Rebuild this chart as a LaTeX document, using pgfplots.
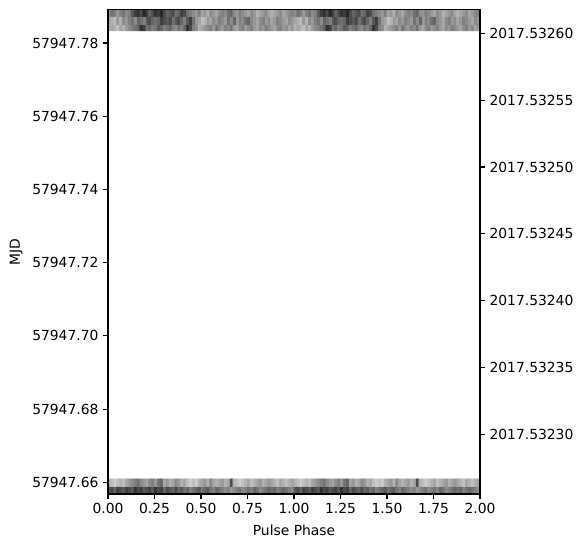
\documentclass[border=0pt]{standalone}
\usepackage{pgfplots}
\pgfplotsset{compat=1.18}
\usepackage{pgfplotstable}
\usepackage{fontspec}
\setmainfont{DejaVu Sans}

% Phaseogram intensities (0 = no signal/white, 1 = strongest/black), 64 phase bins per cycle.
% Top block: three sub-integrations (y = MJD - 57947).
\pgfplotstableread[row sep=\\]{
x y c \\
0.0078 0.78426 0.30 \\ 0.0234 0.78426 0.35 \\ 0.0391 0.78426 0.30 \\ 0.0547 0.78426 0.25 \\ 0.0703 0.78426 0.35 \\ 0.0859 0.78426 0.30 \\ 0.1016 0.78426 0.40 \\ 0.1172 0.78426 0.45 \\
0.1328 0.78426 0.50 \\ 0.1484 0.78426 0.55 \\ 0.1641 0.78426 0.60 \\ 0.1797 0.78426 0.80 \\ 0.1953 0.78426 0.75 \\ 0.2109 0.78426 0.55 \\ 0.2266 0.78426 0.60 \\ 0.2422 0.78426 0.50 \\
0.2578 0.78426 0.55 \\ 0.2734 0.78426 0.65 \\ 0.2891 0.78426 0.60 \\ 0.3047 0.78426 0.50 \\ 0.3203 0.78426 0.55 \\ 0.3359 0.78426 0.60 \\ 0.3516 0.78426 0.50 \\ 0.3672 0.78426 0.45 \\
0.3828 0.78426 0.55 \\ 0.3984 0.78426 0.50 \\ 0.4141 0.78426 0.60 \\ 0.4297 0.78426 0.80 \\ 0.4453 0.78426 0.70 \\ 0.4609 0.78426 0.50 \\ 0.4766 0.78426 0.45 \\ 0.4922 0.78426 0.30 \\
0.5078 0.78426 0.35 \\ 0.5234 0.78426 0.40 \\ 0.5391 0.78426 0.45 \\ 0.5547 0.78426 0.50 \\ 0.5703 0.78426 0.40 \\ 0.5859 0.78426 0.55 \\ 0.6016 0.78426 0.45 \\ 0.6172 0.78426 0.40 \\
0.6328 0.78426 0.50 \\ 0.6484 0.78426 0.45 \\ 0.6641 0.78426 0.55 \\ 0.6797 0.78426 0.40 \\ 0.6953 0.78426 0.35 \\ 0.7109 0.78426 0.45 \\ 0.7266 0.78426 0.50 \\ 0.7422 0.78426 0.40 \\
0.7578 0.78426 0.45 \\ 0.7734 0.78426 0.50 \\ 0.7891 0.78426 0.40 \\ 0.8047 0.78426 0.35 \\ 0.8203 0.78426 0.45 \\ 0.8359 0.78426 0.40 \\ 0.8516 0.78426 0.50 \\ 0.8672 0.78426 0.45 \\
0.8828 0.78426 0.40 \\ 0.8984 0.78426 0.35 \\ 0.9141 0.78426 0.45 \\ 0.9297 0.78426 0.50 \\ 0.9453 0.78426 0.40 \\ 0.9609 0.78426 0.45 \\ 0.9766 0.78426 0.35 \\ 0.9922 0.78426 0.40 \\
0.0078 0.78621 0.35 \\ 0.0234 0.78621 0.30 \\ 0.0391 0.78621 0.25 \\ 0.0547 0.78621 0.40 \\ 0.0703 0.78621 0.30 \\ 0.0859 0.78621 0.45 \\ 0.1016 0.78621 0.40 \\ 0.1172 0.78621 0.50 \\
0.1328 0.78621 0.55 \\ 0.1484 0.78621 0.45 \\ 0.1641 0.78621 0.60 \\ 0.1797 0.78621 0.55 \\ 0.1953 0.78621 0.50 \\ 0.2109 0.78621 0.65 \\ 0.2266 0.78621 0.70 \\ 0.2422 0.78621 0.60 \\
0.2578 0.78621 0.55 \\ 0.2734 0.78621 0.60 \\ 0.2891 0.78621 0.75 \\ 0.3047 0.78621 0.70 \\ 0.3203 0.78621 0.65 \\ 0.3359 0.78621 0.70 \\ 0.3516 0.78621 0.55 \\ 0.3672 0.78621 0.65 \\
0.3828 0.78621 0.70 \\ 0.3984 0.78621 0.60 \\ 0.4141 0.78621 0.50 \\ 0.4297 0.78621 0.65 \\ 0.4453 0.78621 0.75 \\ 0.4609 0.78621 0.55 \\ 0.4766 0.78621 0.40 \\ 0.4922 0.78621 0.35 \\
0.5078 0.78621 0.25 \\ 0.5234 0.78621 0.30 \\ 0.5391 0.78621 0.40 \\ 0.5547 0.78621 0.35 \\ 0.5703 0.78621 0.45 \\ 0.5859 0.78621 0.40 \\ 0.6016 0.78621 0.50 \\ 0.6172 0.78621 0.45 \\
0.6328 0.78621 0.40 \\ 0.6484 0.78621 0.55 \\ 0.6641 0.78621 0.45 \\ 0.6797 0.78621 0.60 \\ 0.6953 0.78621 0.40 \\ 0.7109 0.78621 0.50 \\ 0.7266 0.78621 0.45 \\ 0.7422 0.78621 0.55 \\
0.7578 0.78621 0.60 \\ 0.7734 0.78621 0.45 \\ 0.7891 0.78621 0.40 \\ 0.8047 0.78621 0.35 \\ 0.8203 0.78621 0.45 \\ 0.8359 0.78621 0.50 \\ 0.8516 0.78621 0.40 \\ 0.8672 0.78621 0.45 \\
0.8828 0.78621 0.35 \\ 0.8984 0.78621 0.40 \\ 0.9141 0.78621 0.50 \\ 0.9297 0.78621 0.45 \\ 0.9453 0.78621 0.40 \\ 0.9609 0.78621 0.35 \\ 0.9766 0.78621 0.45 \\ 0.9922 0.78621 0.40 \\
0.0078 0.78817 0.45 \\ 0.0234 0.78817 0.55 \\ 0.0391 0.78817 0.50 \\ 0.0547 0.78817 0.40 \\ 0.0703 0.78817 0.50 \\ 0.0859 0.78817 0.55 \\ 0.1016 0.78817 0.45 \\ 0.1172 0.78817 0.50 \\
0.1328 0.78817 0.65 \\ 0.1484 0.78817 0.75 \\ 0.1641 0.78817 0.80 \\ 0.1797 0.78817 0.70 \\ 0.1953 0.78817 0.85 \\ 0.2109 0.78817 0.75 \\ 0.2266 0.78817 0.60 \\ 0.2422 0.78817 0.70 \\
0.2578 0.78817 0.80 \\ 0.2734 0.78817 0.75 \\ 0.2891 0.78817 0.85 \\ 0.3047 0.78817 0.70 \\ 0.3203 0.78817 0.60 \\ 0.3359 0.78817 0.65 \\ 0.3516 0.78817 0.70 \\ 0.3672 0.78817 0.55 \\
0.3828 0.78817 0.60 \\ 0.3984 0.78817 0.75 \\ 0.4141 0.78817 0.70 \\ 0.4297 0.78817 0.55 \\ 0.4453 0.78817 0.50 \\ 0.4609 0.78817 0.45 \\ 0.4766 0.78817 0.40 \\ 0.4922 0.78817 0.50 \\
0.5078 0.78817 0.35 \\ 0.5234 0.78817 0.40 \\ 0.5391 0.78817 0.30 \\ 0.5547 0.78817 0.45 \\ 0.5703 0.78817 0.40 \\ 0.5859 0.78817 0.35 \\ 0.6016 0.78817 0.45 \\ 0.6172 0.78817 0.50 \\
0.6328 0.78817 0.45 \\ 0.6484 0.78817 0.55 \\ 0.6641 0.78817 0.60 \\ 0.6797 0.78817 0.45 \\ 0.6953 0.78817 0.40 \\ 0.7109 0.78817 0.50 \\ 0.7266 0.78817 0.45 \\ 0.7422 0.78817 0.40 \\
0.7578 0.78817 0.35 \\ 0.7734 0.78817 0.45 \\ 0.7891 0.78817 0.40 \\ 0.8047 0.78817 0.30 \\ 0.8203 0.78817 0.35 \\ 0.8359 0.78817 0.40 \\ 0.8516 0.78817 0.45 \\ 0.8672 0.78817 0.35 \\
0.8828 0.78817 0.30 \\ 0.8984 0.78817 0.35 \\ 0.9141 0.78817 0.40 \\ 0.9297 0.78817 0.45 \\ 0.9453 0.78817 0.35 \\ 0.9609 0.78817 0.40 \\ 0.9766 0.78817 0.45 \\ 0.9922 0.78817 0.50 \\
}\bandtop

% Bottom block: two sub-integrations.
\pgfplotstableread[row sep=\\]{
x y c \\
0.0078 0.65783 0.65 \\ 0.0234 0.65783 0.70 \\ 0.0391 0.65783 0.60 \\ 0.0547 0.65783 0.75 \\ 0.0703 0.65783 0.70 \\ 0.0859 0.65783 0.65 \\ 0.1016 0.65783 0.75 \\ 0.1172 0.65783 0.70 \\
0.1328 0.65783 0.65 \\ 0.1484 0.65783 0.80 \\ 0.1641 0.65783 0.70 \\ 0.1797 0.65783 0.75 \\ 0.1953 0.65783 0.65 \\ 0.2109 0.65783 0.70 \\ 0.2266 0.65783 0.75 \\ 0.2422 0.65783 0.65 \\
0.2578 0.65783 0.80 \\ 0.2734 0.65783 0.70 \\ 0.2891 0.65783 0.75 \\ 0.3047 0.65783 0.60 \\ 0.3203 0.65783 0.70 \\ 0.3359 0.65783 0.65 \\ 0.3516 0.65783 0.60 \\ 0.3672 0.65783 0.70 \\
0.3828 0.65783 0.60 \\ 0.3984 0.65783 0.65 \\ 0.4141 0.65783 0.55 \\ 0.4297 0.65783 0.60 \\ 0.4453 0.65783 0.50 \\ 0.4609 0.65783 0.55 \\ 0.4766 0.65783 0.60 \\ 0.4922 0.65783 0.65 \\
0.5078 0.65783 0.55 \\ 0.5234 0.65783 0.60 \\ 0.5391 0.65783 0.65 \\ 0.5547 0.65783 0.55 \\ 0.5703 0.65783 0.50 \\ 0.5859 0.65783 0.60 \\ 0.6016 0.65783 0.55 \\ 0.6172 0.65783 0.50 \\
0.6328 0.65783 0.45 \\ 0.6484 0.65783 0.50 \\ 0.6641 0.65783 0.40 \\ 0.6797 0.65783 0.45 \\ 0.6953 0.65783 0.50 \\ 0.7109 0.65783 0.55 \\ 0.7266 0.65783 0.45 \\ 0.7422 0.65783 0.50 \\
0.7578 0.65783 0.55 \\ 0.7734 0.65783 0.50 \\ 0.7891 0.65783 0.60 \\ 0.8047 0.65783 0.55 \\ 0.8203 0.65783 0.45 \\ 0.8359 0.65783 0.50 \\ 0.8516 0.65783 0.55 \\ 0.8672 0.65783 0.60 \\
0.8828 0.65783 0.55 \\ 0.8984 0.65783 0.60 \\ 0.9141 0.65783 0.50 \\ 0.9297 0.65783 0.55 \\ 0.9453 0.65783 0.60 \\ 0.9609 0.65783 0.55 \\ 0.9766 0.65783 0.50 \\ 0.9922 0.65783 0.45 \\
0.0078 0.65988 0.30 \\ 0.0234 0.65988 0.25 \\ 0.0391 0.65988 0.20 \\ 0.0547 0.65988 0.25 \\ 0.0703 0.65988 0.30 \\ 0.0859 0.65988 0.25 \\ 0.1016 0.65988 0.35 \\ 0.1172 0.65988 0.40 \\
0.1328 0.65988 0.45 \\ 0.1484 0.65988 0.50 \\ 0.1641 0.65988 0.55 \\ 0.1797 0.65988 0.45 \\ 0.1953 0.65988 0.40 \\ 0.2109 0.65988 0.35 \\ 0.2266 0.65988 0.45 \\ 0.2422 0.65988 0.50 \\
0.2578 0.65988 0.40 \\ 0.2734 0.65988 0.55 \\ 0.2891 0.65988 0.60 \\ 0.3047 0.65988 0.35 \\ 0.3203 0.65988 0.40 \\ 0.3359 0.65988 0.30 \\ 0.3516 0.65988 0.35 \\ 0.3672 0.65988 0.45 \\
0.3828 0.65988 0.40 \\ 0.3984 0.65988 0.30 \\ 0.4141 0.65988 0.35 \\ 0.4297 0.65988 0.25 \\ 0.4453 0.65988 0.20 \\ 0.4609 0.65988 0.25 \\ 0.4766 0.65988 0.20 \\ 0.4922 0.65988 0.30 \\
0.5078 0.65988 0.35 \\ 0.5234 0.65988 0.40 \\ 0.5391 0.65988 0.30 \\ 0.5547 0.65988 0.45 \\ 0.5703 0.65988 0.35 \\ 0.5859 0.65988 0.30 \\ 0.6016 0.65988 0.35 \\ 0.6172 0.65988 0.40 \\
0.6328 0.65988 0.30 \\ 0.6484 0.65988 0.35 \\ 0.6641 0.65988 0.70 \\ 0.6797 0.65988 0.30 \\ 0.6953 0.65988 0.25 \\ 0.7109 0.65988 0.20 \\ 0.7266 0.65988 0.25 \\ 0.7422 0.65988 0.30 \\
0.7578 0.65988 0.35 \\ 0.7734 0.65988 0.25 \\ 0.7891 0.65988 0.30 \\ 0.8047 0.65988 0.35 \\ 0.8203 0.65988 0.40 \\ 0.8359 0.65988 0.30 \\ 0.8516 0.65988 0.35 \\ 0.8672 0.65988 0.40 \\
0.8828 0.65988 0.35 \\ 0.8984 0.65988 0.30 \\ 0.9141 0.65988 0.25 \\ 0.9297 0.65988 0.35 \\ 0.9453 0.65988 0.30 \\ 0.9609 0.65988 0.25 \\ 0.9766 0.65988 0.30 \\ 0.9922 0.65988 0.35 \\
}\bandbottom

\pgfplotsset{
  phaseaxis/.style={
    scale only axis,
    width=279pt, height=363.4pt,
    xmin=0, xmax=2,
    font=\fontsize{10.4}{12.5}\selectfont,
    axis line style={line width=0.8pt, black},
    tick style={line width=0.8pt, black},
    major tick length=3.65pt,
    tick align=outside,
    /pgf/number format/assume math mode=true,
  },
}

\begin{document}
\begin{tikzpicture}
\begin{axis}[
  phaseaxis,
  ymin=0.6568, ymax=0.78915,
  tick pos=left,
  xtick={0,0.25,0.5,0.75,1,1.25,1.5,1.75,2},
  xticklabels={0.00,0.25,0.50,0.75,1.00,1.25,1.50,1.75,2.00},
  ytick={0.66,0.68,0.70,0.72,0.74,0.76,0.78},
  yticklabels={57947.66,57947.68,57947.70,57947.72,57947.74,57947.76,57947.78},
  xlabel={Pulse Phase},
  ylabel={MJD},
  xlabel style={at={(axis description cs:0.5,-0.0743)}, anchor=center},
  ylabel style={at={(axis description cs:-0.247,0.5)}, anchor=center},
  colormap={bw}{gray(0cm)=(1); gray(1cm)=(0)},
  point meta min=0, point meta max=1,
  axis on top,
]
  % first rotation
  \addplot[matrix plot*, mesh/cols=64, point meta=explicit]
    table[x=x, y=y, meta=c] {\bandtop};
  \addplot[matrix plot*, mesh/cols=64, point meta=explicit]
    table[x=x, y=y, meta=c] {\bandbottom};
  % same profile repeated for the second rotation
  \addplot[matrix plot*, mesh/cols=64, point meta=explicit]
    table[x expr=\thisrow{x}+1, y=y, meta=c] {\bandtop};
  \addplot[matrix plot*, mesh/cols=64, point meta=explicit]
    table[x expr=\thisrow{x}+1, y=y, meta=c] {\bandbottom};
\end{axis}
% decimal-year scale on the right (ticks and labels only; the frame is drawn above)
\begin{axis}[
  phaseaxis,
  ymin=25.544, ymax=61.78,
  axis x line=none,
  axis y line*=right,
  y axis line style={draw=none},
  ytick={30,35,40,45,50,55,60},
  yticklabels={2017.53230,2017.53235,2017.53240,2017.53245,2017.53250,2017.53255,2017.53260},
]
\end{axis}
\pgfresetboundingbox
\path (-81pt,-32.25pt) rectangle (354pt,370.5pt);
\end{tikzpicture}
\end{document}
